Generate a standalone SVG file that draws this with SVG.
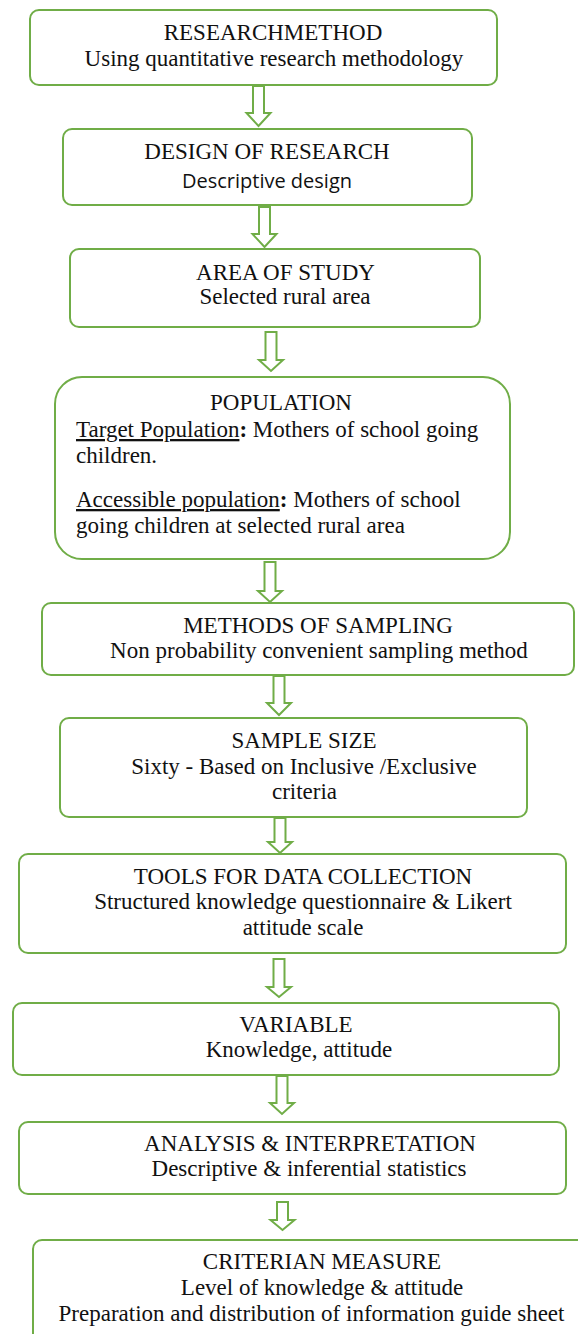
<svg xmlns="http://www.w3.org/2000/svg" width="578" height="1334" viewBox="0 0 578 1334">
<style>
.box{fill:#fff;stroke:#70AD47;stroke-width:2}
.arr{fill:#fff;stroke:#70AD47;stroke-width:2;stroke-linejoin:miter}
.t{font-family:"Liberation Serif","Times New Roman",serif;font-size:23px;fill:#111;text-anchor:middle}
.l{font-family:"Liberation Serif","Times New Roman",serif;font-size:23px;fill:#111}
.s{font-family:"Open Sans","Liberation Sans",sans-serif;font-size:20px;fill:#111;text-anchor:middle}
.u{text-decoration:underline}
.b{font-weight:bold}
</style>
<rect width="578" height="1334" fill="#fff"/>
<g id="connectors">
<polygon class="arr" points="253,86 264,86 264,113 270.5,113 258.5,126 246.5,113 253,113"/>
<polygon class="arr" points="259,207 270,207 270,234 276.5,234 264.5,247 252.5,234 259,234"/>
<polygon class="arr" points="265.5,332 276.5,332 276.5,360 283,360 271,371 259,360 265.5,360"/>
<polygon class="arr" points="264.5,562 275.5,562 275.5,591 282,591 270,602 258,591 264.5,591"/>
<polygon class="arr" points="273.5,676 284.5,676 284.5,703 291,703 279,715 267,703 273.5,703"/>
<polygon class="arr" points="274.5,818 285.5,818 285.5,842 292,842 280,853 268,842 274.5,842"/>
<polygon class="arr" points="273.5,959 284.5,959 284.5,987 291,987 279,997 267,987 273.5,987"/>
<polygon class="arr" points="276.5,1076 287.5,1076 287.5,1103 294,1103 282,1114 270,1103 276.5,1103"/>
<polygon class="arr" points="277,1202 288,1202 288,1220 294.5,1220 282.5,1230 270.5,1220 277,1220"/>
</g>
<g id="n1">
<rect class="box" x="30" y="10" width="467" height="75" rx="9"/>
<text class="t" x="273" y="40">RESEARCHMETHOD</text>
<text class="t" x="274" y="66">Using quantitative research methodology</text>
</g>
<g id="n2">
<rect class="box" x="63" y="129" width="409" height="76" rx="9"/>
<text class="t" x="267" y="159">DESIGN OF RESEARCH</text>
<text class="s" x="267" y="188">Descriptive design</text>
</g>
<g id="n3">
<rect class="box" x="70" y="249" width="410" height="78" rx="9"/>
<text class="t" x="285.5" y="280">AREA OF STUDY</text>
<text class="t" x="285" y="304">Selected rural area</text>
</g>
<g id="n4">
<rect class="box" x="55" y="377" width="455" height="182" rx="27"/>
<text class="t" x="281" y="410">POPULATION</text>
<text class="l" x="76" y="437"><tspan class="u">Target Population</tspan><tspan class="b">:</tspan> Mothers of school going</text>
<text class="l" x="76" y="463">children.</text>
<text class="l" x="76" y="507"><tspan class="u">Accessible population</tspan><tspan class="b">:</tspan> Mothers of school</text>
<text class="l" x="76" y="533">going children at selected rural area</text>
</g>
<g id="n5">
<rect class="box" x="42" y="603" width="532" height="72" rx="9"/>
<text class="t" x="318" y="633">METHODS OF SAMPLING</text>
<text class="t" x="319" y="658">Non probability convenient sampling method</text>
</g>
<g id="n6">
<rect class="box" x="60" y="718" width="467" height="99" rx="9"/>
<text class="t" x="304" y="748">SAMPLE SIZE</text>
<text class="t" x="304" y="774">Sixty - Based on Inclusive /Exclusive</text>
<text class="t" x="304.5" y="799">criteria</text>
</g>
<g id="n7">
<rect class="box" x="19" y="854" width="547" height="99" rx="9"/>
<text class="t" x="303" y="884">TOOLS FOR DATA COLLECTION</text>
<text class="t" x="303" y="909">Structured knowledge questionnaire &amp; Likert</text>
<text class="t" x="303" y="935">attitude scale</text>
</g>
<g id="n8">
<rect class="box" x="13" y="1003" width="546" height="72" rx="9"/>
<text class="t" x="296" y="1032">VARIABLE</text>
<text class="t" x="299" y="1057">Knowledge, attitude</text>
</g>
<g id="n9">
<rect class="box" x="19" y="1122" width="547" height="72" rx="9"/>
<text class="t" x="310" y="1151">ANALYSIS &amp; INTERPRETATION</text>
<text class="t" x="309" y="1176">Descriptive &amp; inferential statistics</text>
</g>
<g id="n10">
<rect class="box" x="33" y="1240" width="560" height="110" rx="9"/>
<text class="t" x="322" y="1269">CRITERIAN MEASURE</text>
<text class="t" x="322" y="1295">Level of knowledge &amp; attitude</text>
<text class="t" x="311.5" y="1321">Preparation and distribution of information guide sheet</text>
</g>
</svg>
